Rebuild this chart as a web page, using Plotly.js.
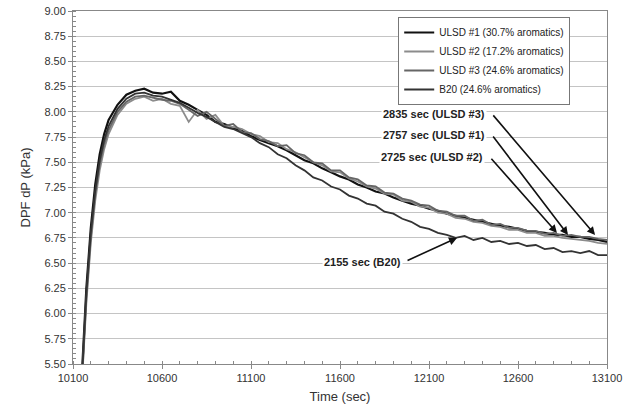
<!DOCTYPE html>
<html>
<head>
<meta charset="utf-8">
<script src="https://cdn.plot.ly/plotly-3.0.1.min.js"></script>
<style>html,body{margin:0;padding:0;background:#fff;}#chart{width:638px;height:414px;}</style>
</head>
<body>
<div id="chart"></div>
<script>
const time = [10150,10175,10200,10225,10250,10275,10300,10350,10400,10450,10500,10550,10600,10650,10700,10750,10800,10850,10900,10950,11000,11050,11100,11150,11200,11250,11300,11350,11400,11450,11500,11550,11600,11650,11700,11750,11800,11850,11900,11950,12000,12050,12100,12150,12200,12250,12300,12350,12400,12450,12500,12550,12600,12650,12700,12750,12800,12850,12900,12950,13000,13050,13100];

const ulsd1 = [5.40,6.25,6.85,7.28,7.58,7.78,7.92,8.07,8.17,8.21,8.23,8.19,8.18,8.20,8.11,8.07,8.02,7.97,7.90,7.88,7.84,7.81,7.76,7.72,7.69,7.66,7.62,7.57,7.52,7.49,7.44,7.40,7.36,7.33,7.28,7.25,7.21,7.19,7.15,7.12,7.09,7.07,7.04,7.02,6.99,6.97,6.95,6.93,6.91,6.89,6.87,6.86,6.84,6.82,6.81,6.80,6.78,6.78,6.76,6.76,6.74,6.73,6.71];

const ulsd2 = [5.30,6.10,6.70,7.12,7.42,7.63,7.78,7.97,8.08,8.13,8.15,8.11,8.13,8.08,8.06,7.90,8.02,7.93,7.97,7.86,7.85,7.83,7.78,7.76,7.70,7.69,7.63,7.60,7.55,7.50,7.47,7.41,7.40,7.34,7.31,7.26,7.24,7.19,7.18,7.12,7.11,7.06,7.05,7.00,6.99,6.95,6.94,6.91,6.90,6.87,6.86,6.83,6.83,6.80,6.80,6.77,6.77,6.75,6.74,6.73,6.72,6.70,6.69];

const ulsd3 = [5.32,6.15,6.75,7.18,7.48,7.68,7.82,8.00,8.10,8.15,8.16,8.14,8.12,8.11,8.08,8.02,7.96,8.00,7.93,7.86,7.88,7.80,7.79,7.73,7.71,7.66,7.67,7.59,7.57,7.50,7.49,7.42,7.42,7.35,7.33,7.27,7.26,7.20,7.19,7.14,7.12,7.08,7.07,7.02,7.01,6.97,6.97,6.92,6.93,6.88,6.89,6.85,6.85,6.82,6.82,6.79,6.80,6.77,6.78,6.76,6.76,6.74,6.73];

const b20 = [5.36,6.20,6.80,7.22,7.52,7.72,7.86,8.03,8.13,8.18,8.19,8.16,8.15,8.12,8.09,8.04,7.99,7.95,7.90,7.85,7.83,7.79,7.75,7.69,7.65,7.58,7.54,7.47,7.42,7.35,7.32,7.26,7.23,7.17,7.14,7.09,7.07,7.01,6.99,6.94,6.91,6.86,6.84,6.80,6.78,6.75,6.77,6.73,6.75,6.71,6.72,6.69,6.70,6.67,6.68,6.64,6.65,6.61,6.62,6.60,6.62,6.58,6.58];

const seriesNames = ["ULSD #1 (30.7% aromatics)","ULSD #2 (17.2% aromatics)","ULSD #3 (24.6% aromatics)","B20 (24.6% aromatics)"];
const seriesValues = [ulsd1, ulsd2, ulsd3, b20];
const seriesColors = ["#111111","#8c8c8c","#666666","#333333"];

// callouts: label, text anchor (right end), arrow tail, arrow head
const calloutLabels = ["2835 sec (ULSD #3)","2757 sec (ULSD #1)","2725 sec (ULSD #2)","2155 sec (B20)"];
const calloutTextX = [12426,12426,12415,11954];
const calloutTextY = [7.98,7.77,7.55,6.51];
const calloutTailX = [12454,12454,12443,11971];
const calloutTailY = [7.98,7.77,7.55,6.52];
const calloutHeadX = [13033,12881,12819,12257];
const calloutHeadY = [6.78,6.78,6.80,6.75];

const traces = seriesNames.map((n,i)=>({
  x: time, y: seriesValues[i], type:'scatter', mode:'lines', name:n,
  line:{color:seriesColors[i], width: i===0?2.2:1.8}
}));

const annotations = [];
calloutLabels.forEach((t,i)=>{
  annotations.push({x:calloutTextX[i], y:calloutTextY[i], xref:'x', yref:'y', text:'<b>'+t+'</b>',
    showarrow:false, xanchor:'right', yanchor:'middle', bgcolor:'#ffffff',
    font:{family:'Liberation Sans, Arial, sans-serif', size:11, color:'#222'}});
  annotations.push({x:calloutHeadX[i], y:calloutHeadY[i], xref:'x', yref:'y', ax:calloutTailX[i], ay:calloutTailY[i],
    axref:'x', ayref:'y', text:'', showarrow:true, arrowhead:2, arrowsize:1, arrowwidth:1.6, arrowcolor:'#111', standoff:0, startstandoff:0});
});

const layout = {
  width:638, height:414,
  margin:{l:73, r:31, t:11, b:50},
  paper_bgcolor:'#fff', plot_bgcolor:'#fff',
  font:{family:'Liberation Sans, Arial, sans-serif', size:11, color:'#333'},
  showlegend:true,
  legend:{x:0.609, y:0.983, xanchor:'left', yanchor:'top', bgcolor:'#fff', bordercolor:'#777', borderwidth:1,
    font:{size:10, color:'#222'}, tracegroupgap:0, itemwidth:30},
  xaxis:{range:[10100,13100], tick0:10100, dtick:500, tickformat:'d', showgrid:false, zeroline:false,
    showline:true, linecolor:'#888', linewidth:1, mirror:true,
    ticks:'outside', ticklen:4, tickcolor:'#888',
    minor:{dtick:100, ticks:'inside', ticklen:3, tickcolor:'#888', showgrid:false},
    title:{text:'Time (sec)', font:{size:13, color:'#333'}, standoff:8},
    tickfont:{size:11, color:'#333'}},
  yaxis:{range:[5.5,9.0], tick0:5.5, dtick:0.25, tickformat:'.2f', showgrid:true, gridcolor:'#c4c4c4', gridwidth:1,
    zeroline:false, showline:true, linecolor:'#888', linewidth:1, mirror:true,
    ticks:'outside', ticklen:4, tickcolor:'#888',
    minor:{dtick:0.05, ticks:'inside', ticklen:3, tickcolor:'#888', showgrid:false},
    title:{text:'DPF dP (kPa)', font:{size:13, color:'#333'}, standoff:10},
    tickfont:{size:11, color:'#333'}},
  annotations: annotations
};

Plotly.newPlot('chart', traces, layout, {staticPlot:true, displayModeBar:false});
</script>
</body>
</html>
